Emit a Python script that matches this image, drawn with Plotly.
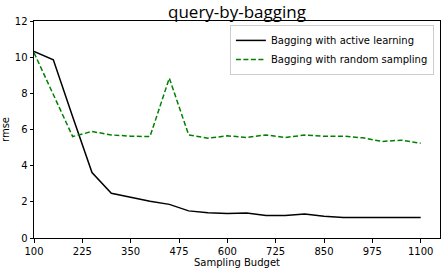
import plotly.graph_objects as go

budget = [100, 150, 200, 250, 300, 350, 400, 450, 500, 550, 600, 650, 700, 750, 800, 850, 900, 950, 1000, 1050, 1100]
active = [10.32, 9.86, 6.7, 3.62, 2.47, 2.25, 2.03, 1.86, 1.50, 1.40, 1.35, 1.38, 1.24, 1.24, 1.33, 1.20, 1.14, 1.13, 1.14, 1.13, 1.13]
random_s = [10.25, 7.95, 5.61, 5.89, 5.70, 5.63, 5.61, 8.84, 5.70, 5.52, 5.65, 5.56, 5.70, 5.56, 5.69, 5.63, 5.63, 5.54, 5.34, 5.41, 5.24]
xticks = [100, 225, 350, 475, 600, 725, 850, 975, 1100]
yticks = [0, 2, 4, 6, 8, 10, 12]

fig = go.Figure()
fig.add_trace(go.Scatter(x=budget, y=active, mode="lines", name="Bagging with active learning",
                         line=dict(color="black", width=1.5)))
fig.add_trace(go.Scatter(x=budget, y=random_s, mode="lines", name="Bagging with random sampling",
                         line=dict(color="green", width=1.5, dash="5px,2.5px")))

axis_common = dict(showgrid=False, zeroline=False, showline=True, linecolor="black", linewidth=1,
                   mirror=True, ticks="outside", ticklen=3.5, tickcolor="black", automargin=False,
                   tickfont=dict(family="DejaVu Sans", size=10, color="black"))
fig.update_layout(
    width=447, height=275,
    margin=dict(l=34, r=7, t=21, b=37),
    paper_bgcolor="white", plot_bgcolor="white",
    title=dict(text="query-by-bagging", x=(34 + 440) / 2 / 447, xanchor="center", y=0.957, yanchor="middle",
               font=dict(family="Open Sans", size=17, color="black"), automargin=False),
    xaxis=dict(range=[100, 1150], tickvals=xticks, ticktext=[str(t) for t in xticks],
               title=dict(text="Sampling Budget", standoff=2, font=dict(family="DejaVu Sans", size=10, color="black")),
               **axis_common),
    yaxis=dict(range=[0, 12], tickvals=yticks,
               title=dict(text="rmse", standoff=4, font=dict(family="DejaVu Sans", size=10, color="black")),
               **axis_common),
    legend=dict(x=0.985, xanchor="right", y=0.982, yanchor="top", bgcolor="rgba(255,255,255,0.8)",
                bordercolor="#cccccc", borderwidth=1, font=dict(family="DejaVu Sans", size=10, color="black"),
                tracegroupgap=0, itemwidth=30),
    showlegend=True,
)
fig.write_html("out.html", config={"displayModeBar": False},
               post_script="document.body.style.margin='0px';")
